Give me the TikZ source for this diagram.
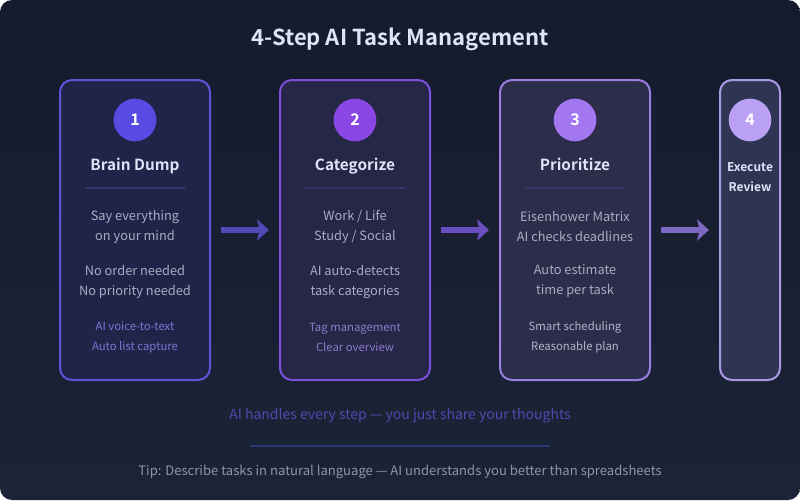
\documentclass[tikz,border=0pt]{standalone}
\usepackage{fontspec}
\setmainfont{Noto Sans CJK SC}[BoldFont={Noto Sans CJK SC Bold}]
\usetikzlibrary{arrows.meta,positioning}

\definecolor{bgtop}{HTML}{141B2D}
\definecolor{bgbot}{HTML}{1B2336}
\definecolor{fillA}{HTML}{1F2548}
\definecolor{fillB}{HTML}{262647}
\definecolor{fillC}{HTML}{2B2D4B}
\definecolor{fillD}{HTML}{2F3452}
\definecolor{edgeA}{HTML}{5B55D8}
\definecolor{edgeB}{HTML}{7D50DB}
\definecolor{edgeC}{HTML}{9B7DE0}
\definecolor{edgeD}{HTML}{A99AE6}
\definecolor{dotA}{HTML}{574BE4}
\definecolor{dotB}{HTML}{8A47E6}
\definecolor{dotC}{HTML}{A277F0}
\definecolor{dotD}{HTML}{B9A0F5}
\definecolor{headtxt}{HTML}{DFE3F7}
\definecolor{bodytxt}{HTML}{A8ACC2}
\definecolor{noteA}{HTML}{7B76D6}
\definecolor{noteB}{HTML}{8D7BCC}
\definecolor{noteC}{HTML}{B5B3CC}
\definecolor{rulec}{HTML}{34366A}
\definecolor{arrA}{HTML}{4F4AB5}
\definecolor{arrB}{HTML}{6B4EC0}
\definecolor{arrC}{HTML}{7D68C2}
\definecolor{slogan}{HTML}{4C4BB0}
\definecolor{tiptxt}{HTML}{8D95A9}
\definecolor{footrule}{HTML}{2D3474}

\tikzset{
  card/.style={draw, line width=1.5pt, rounded corners=9pt, minimum width=112.5pt, minimum height=225pt, inner sep=0pt},
  num/.style={circle, minimum size=32pt, inner sep=0pt, text=white, font=\bfseries\fontsize{12}{14}\selectfont},
  head/.style={text=headtxt, text height=1.6ex, text depth=0.45ex, font=\bfseries\fontsize{11.5}{14}\selectfont},
  body/.style={text=bodytxt, align=center, font=\fontsize{9.6}{15}\selectfont},
  note/.style={align=center, font=\fontsize{8.5}{15}\selectfont},
  flow/.style={line width=3.8pt, -{Stealth[length=9pt, width=16pt, inset=2pt]}, shorten <=7.5pt, shorten >=7.5pt}
}

\begin{document}
\begin{tikzpicture}[x=0.75pt, y=-0.75pt]
  \useasboundingbox (0,0) rectangle (800,500);
  \fill[white] (0,0) rectangle (800,500);
  \shade[top color=bgtop, bottom color=bgbot, rounded corners=9pt] (0,0) rectangle (800,500);

  \node[text=headtxt, font=\bfseries\fontsize{16.5}{20}\selectfont] (title) at (400,39) {4-Step AI Task Management};

  % cards
  \node[card, draw=edgeA, fill=fillA] (c1) at (135,230) {};
  \node[card, draw=edgeB, fill=fillB] (c2) at (355,230) {};
  \node[card, draw=edgeC, fill=fillC] (c3) at (575,230) {};
  \node[card, draw=edgeD, fill=fillD, minimum width=45pt] (c4) at (750,230) {};

  % numbers
  \node[num, fill=dotA] (n1) at (135,120) {1};
  \node[num, fill=dotB] (n2) at (355,120) {2};
  \node[num, fill=dotC] (n3) at (575,120) {3};
  \node[num, fill=dotD] (n4) at (750,120) {4};

  % step 1
  \node[head] (h1) at (135,166) {Brain Dump};
  \draw[rulec, line width=1.2pt] (85,188) -- (185,188);
  \node[body] (b1) at (135,227) {Say everything\\on your mind};
  \node[body] (d1) at (135,282) {No order needed\\No priority needed};
  \node[note, text=noteA] (e1) at (135,337) {AI voice-to-text\\Auto list capture};

  % step 2
  \node[head] (h2) at (355,166) {Categorize};
  \draw[rulec, line width=1.2pt] (305,188) -- (405,188);
  \node[body] (b2) at (355,227) {Work / Life\\Study / Social};
  \node[body] (d2) at (355,282) {AI auto-detects\\task categories};
  \node[note, text=noteB] (e2) at (355,337) {Tag management\\Clear overview};

  % step 3
  \node[head] (h3) at (575,166) {Prioritize};
  \draw[rulec, line width=1.2pt] (525,188) -- (625,188);
  \node[body] (b3) at (575,226) {Eisenhower Matrix\\AI checks deadlines};
  \node[body] (d3) at (575,281) {Auto estimate\\time per task};
  \node[note, text=noteC] (e3) at (575,337) {Smart scheduling\\Reasonable plan};

  % step 4
  \node[head, align=center, text height=, text depth=, font=\bfseries\fontsize{9}{15}\selectfont] (h4) at (750,177) {Execute\\Review};

  % arrows
  \draw[flow, arrA] (c1.east) -- (c2.west);
  \draw[flow, arrB] (c2.east) -- (c3.west);
  \draw[flow, arrC] (c3.east) -- (c4.west);

  % footer
  \node[text=slogan, font=\fontsize{10.5}{13}\selectfont] (slog) at (400,416) {AI handles every step — you just share your thoughts};
  \draw[footrule, line width=2pt] (250,446) -- (550,446);
  \node[text=tiptxt, font=\fontsize{9.8}{12}\selectfont] (tip) at (400,472) {Tip: Describe tasks in natural language — AI understands you better than spreadsheets};
\end{tikzpicture}
\end{document}
